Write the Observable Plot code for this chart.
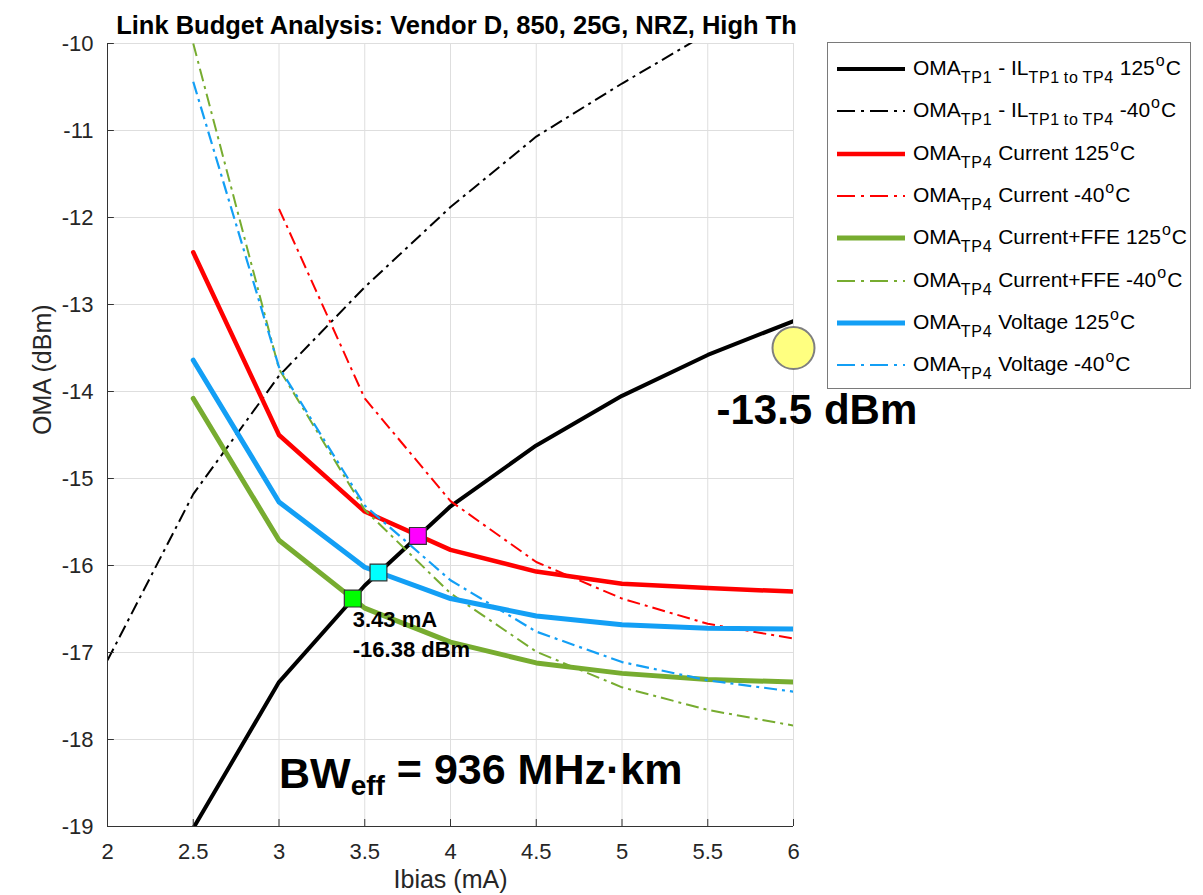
<!DOCTYPE html>
<html>
<head>
<meta charset="utf-8">
<script src="https://cdn.jsdelivr.net/npm/d3@7"></script>
<script src="https://cdn.jsdelivr.net/npm/@observablehq/plot@0.6"></script>
<style>
html, body { margin: 0; padding: 0; background: #fff; }
#wrap { position: relative; width: 1203px; height: 895px; font-family: "Liberation Sans", Arial, Helvetica, sans-serif; }
#legend { position: absolute; left: 827px; top: 42px; width: 364px; height: 347px; border: 1px solid #7a7a7a; background: #fff; box-sizing: border-box; }
.row { position: absolute; left: 0; height: 42px; display: flex; align-items: center; white-space: nowrap; }
.row svg { margin-left: 9px; margin-right: 8px; flex: none; }
.lbl { font-size: 21px; color: #000; line-height: 42px; }
.sb { position: relative; top: 8px; font-size: 16px; letter-spacing: 0.7px; }
.sp { position: relative; top: -9px; font-size: 16px; margin-left: 1px; margin-right: 1px; }
</style>
</head>
<body>
<div id="wrap"><div id="legend"></div></div>
<script>
// ---------------- data ----------------
const ibias = [2, 2.5, 3, 3.5, 4, 4.5, 5, 5.5, 6];

const omaIL125    = [null, -19.02, -17.34, -16.23, -15.32, -14.62, -14.05, -13.58, -13.19];
const omaILm40    = [-17.09, -15.18, -13.82, -12.80, -11.88, -11.07, -10.46, -9.88, null];
const current125  = [null, -12.40, -14.50, -15.38, -15.82, -16.07, -16.21, -16.26, -16.30];
const currentm40  = [null, null, -11.90, -14.08, -15.26, -15.96, -16.38, -16.67, -16.84];
const ffe125      = [null, -14.08, -15.71, -16.49, -16.88, -17.12, -17.24, -17.31, -17.34];
const ffem40      = [null, -10.00, -13.74, -15.36, -16.32, -16.99, -17.40, -17.66, -17.84];
const voltage125  = [null, -13.64, -15.27, -16.02, -16.38, -16.58, -16.68, -16.72, -16.73];
const voltagem40  = [null, -10.44, -13.72, -15.31, -16.17, -16.76, -17.11, -17.32, -17.45];

const seriesLabels = [
  "OMA_{TP1} - IL_{TP1\u2009to\u2009TP4} 125^{o}C",
  "OMA_{TP1} - IL_{TP1\u2009to\u2009TP4} -40^{o}C",
  "OMA_{TP4} Current 125^{o}C",
  "OMA_{TP4} Current -40^{o}C",
  "OMA_{TP4} Current+FFE 125^{o}C",
  "OMA_{TP4} Current+FFE -40^{o}C",
  "OMA_{TP4} Voltage 125^{o}C",
  "OMA_{TP4} Voltage -40^{o}C"
];
const seriesValues = [omaIL125, omaILm40, current125, currentm40, ffe125, ffem40, voltage125, voltagem40];

// crossing markers
const markerIbias = [3.81, 3.58, 3.43];
const markerOMA = [-15.66, -16.08, -16.38];

// target point
const targetIbias = [6];
const targetOMA = [-13.5];

const xTicks = [2, 2.5, 3, 3.5, 4, 4.5, 5, 5.5, 6];
const yTicks = [-19, -18, -17, -16, -15, -14, -13, -12, -11, -10];

const titleText = "Link Budget Analysis: Vendor D, 850, 25G, NRZ, High Th";
const xLabel = "Ibias (mA)";
const yLabel = "OMA (dBm)";
const bwParts = ["BW", "eff", " = 936 MHz·km"];
const bwIbias = 3.0;
const bwOMA = -18.56;

// ---------------- styles ----------------
const seriesColors = ["#000000", "#000000", "#ff0000", "#ff0000", "#77ac30", "#77ac30", "#139ff5", "#139ff5"];
const seriesWidths = [4, 2, 4.5, 2, 5, 2, 5, 2.2];
const dashDot = "13,5,3,5";
const seriesDash = [null, dashDot, null, dashDot, null, dashDot, null, dashDot];
const markerFill = ["#ff00ff", "#00ffff", "#00ff00"];

const FONT = '"Liberation Sans", Arial, Helvetica, sans-serif';

// ---------------- build ----------------
const rows = [];
seriesValues.forEach((vals, s) => {
  vals.forEach((v, i) => { if (v !== null) rows.push({series: s, ibias: ibias[i], oma: v}); });
});

const lineMarks = seriesValues.map((_, s) => Plot.line(rows.filter(r => r.series === s), {
  x: "ibias", y: "oma",
  stroke: seriesColors[s], strokeWidth: seriesWidths[s],
  strokeDasharray: seriesDash[s] || undefined,
  strokeLinecap: seriesDash[s] ? "butt" : "round",
  strokeLinejoin: "round",
  clip: true
}));

const markers = markerIbias.map((x, i) => ({ibias: x, oma: markerOMA[i], k: i}));
const greenIdx = 2;
const target = targetIbias.map((x, i) => ({ibias: x, oma: targetOMA[i]}));

const chart = Plot.plot({
  width: 1203,
  height: 895,
  marginLeft: 107,
  marginRight: 410,
  marginTop: 43,
  marginBottom: 69,
  x: {domain: [2, 6]},
  y: {domain: [-19, -10]},
  style: {fontFamily: FONT, fontSize: "22px", color: "#262626", background: "white", overflow: "visible"},
  marks: [
    Plot.gridX(xTicks, {stroke: "#dedede", strokeOpacity: 1, strokeWidth: 1}),
    Plot.gridY(yTicks, {stroke: "#dedede", strokeOpacity: 1, strokeWidth: 1}),
    ...lineMarks,
    Plot.ruleX([2], {stroke: "#333", strokeWidth: 1}),
    Plot.ruleY([-19], {stroke: "#333", strokeWidth: 1}),
    Plot.ruleX(xTicks, {x: d => d, y1: -19, y2: -18.92, stroke: "#333"}),
    Plot.ruleY(yTicks, {y: d => d, x1: 2, x2: 2.04, stroke: "#333"}),
    Plot.axisX({ticks: xTicks, tickFormat: d => String(d), tickSize: 0, tickPadding: 17, fontSize: 22, label: null}),
    Plot.axisY({ticks: yTicks, tickFormat: d => String(d), tickSize: 0, tickPadding: 14, fontSize: 22, label: null}),
    Plot.text([xLabel], {frameAnchor: "bottom", text: d => d, lineAnchor: "bottom", dy: 61,
      fontSize: 25, fill: "#262626"}),
    Plot.text([yLabel], {frameAnchor: "left", text: d => d, rotate: -90, lineAnchor: "middle", dx: -65,
      fontSize: 25, fill: "#262626"}),
    Plot.dot(markers, {x: "ibias", y: "oma", symbol: "square", r: 9.5,
      fill: d => markerFill[d.k], stroke: "#333", strokeWidth: 1.2}),
    Plot.dot(target, {x: "ibias", y: "oma", r: 21, fill: "#ffff80", stroke: "#7f7f7f", strokeWidth: 2}),
    Plot.text([markers[greenIdx]], {x: "ibias", y: "oma", text: d => `${d.ibias} mA`,
      textAnchor: "start", lineAnchor: "bottom", dy: 28, fontSize: 22, fontWeight: "bold", fill: "#000"}),
    Plot.text([markers[greenIdx]], {x: "ibias", y: "oma", text: d => `${d.oma} dBm`,
      textAnchor: "start", lineAnchor: "bottom", dy: 58, fontSize: 22, fontWeight: "bold", fill: "#000"}),
    Plot.text(target, {x: "ibias", y: "oma", text: d => `${d.oma} dBm`,
      textAnchor: "start", lineAnchor: "bottom", dx: -77, dy: 76, fontSize: 42, fontWeight: "bold", fill: "#000"}),
    Plot.text([bwParts.join("")], {x: () => bwIbias, y: () => bwOMA, text: d => d,
      textAnchor: "start", lineAnchor: "bottom", fontSize: 43, fontWeight: "bold", fill: "#000"}),
    Plot.text([titleText], {frameAnchor: "top", text: d => d, lineAnchor: "bottom", dy: -10, dx: 6,
      fontSize: 25.5, fontWeight: "bold", fill: "#000"})
  ]
});

document.getElementById("wrap").appendChild(chart);

// subscript in BW_eff label
d3.select(chart).selectAll("text").filter(function() { return this.textContent === bwParts.join(""); })
  .each(function() {
    const t = d3.select(this);
    t.text(null);
    t.append("tspan").text(bwParts[0]);
    t.append("tspan").attr("font-size", "28px").attr("dy", "0.25em").text(bwParts[1]);
    t.append("tspan").attr("dy", "-0.25em").text(bwParts[2]);
  });

// ---------------- legend ----------------
function labelHTML(s) {
  return s.replace(/_\{([^}]*)\}/g, '<span class="sb">$1</span>')
          .replace(/\^\{([^}]*)\}/g, '<span class="sp">$1</span>');
}
const legend = d3.select("#legend");
seriesLabels.forEach((lab, s) => {
  const row = legend.append("div").attr("class", "row").style("top", (5 + s * 42.3) + "px");
  const svg = row.append("svg").attr("width", 68).attr("height", 12);
  svg.append("line").attr("x1", 0).attr("x2", 68).attr("y1", 6).attr("y2", 6)
    .attr("stroke", seriesColors[s]).attr("stroke-width", seriesWidths[s])
    .attr("stroke-dasharray", seriesDash[s] ? "18,6,3,6" : null);
  row.append("span").attr("class", "lbl").html(labelHTML(lab));
});
</script>
</body>
</html>
